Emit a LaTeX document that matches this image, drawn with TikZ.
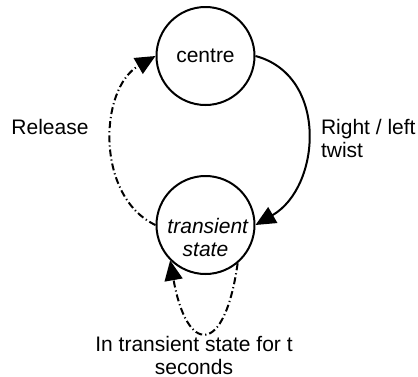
\documentclass[tikz,border=0pt]{standalone}
\usepackage{fontspec}
\setmainfont{Liberation Sans}
\usetikzlibrary{positioning,arrows.meta}

\begin{document}
\begin{tikzpicture} [node distance=34.5bp, x=1bp, y=1bp,
    font=\fontsize{10.5bp}{11.5bp}\selectfont,
    >={Triangle[length=10bp,width=9bp]},
    state/.style={draw,circle,line width=1bp,inner sep=0pt,minimum size=49bp},
    dashdot/.style={dash pattern=on 3.5bp off 1.5bp on 0.6bp off 1.5bp}]
    \useasboundingbox (-102.75,28) rectangle (106.25,-160.5);

    \node[state] (centre) {centre};
    \node[state,below=of centre,align=center,text width=38bp,text height=8bp,text depth=0bp,font=\fontsize{10.5bp}{11.5bp}\selectfont\itshape] (transient) {transient\\state};

    \node (release) at (-77.75,-35.5) {Release};
    \node[anchor=west,align=left] (twist) at (54.25,-41.25) {Right / left\\twist};
    \node[align=center] (wait) at (-5.75,-149.5) {In transient state for t\\seconds};

    \path (centre.east) edge [->,line width=1bp,out=-15,in=30,looseness=1.15] (transient.east);
    \path (transient.west) edge [->,line width=1bp,dashdot,out=155,in=210,looseness=1.0] (centre.west);
    \path (transient.-50) edge [->,line width=1bp,dashdot,out=-98,in=-80,looseness=3.6] (transient.-135);
\end{tikzpicture}
\end{document}
